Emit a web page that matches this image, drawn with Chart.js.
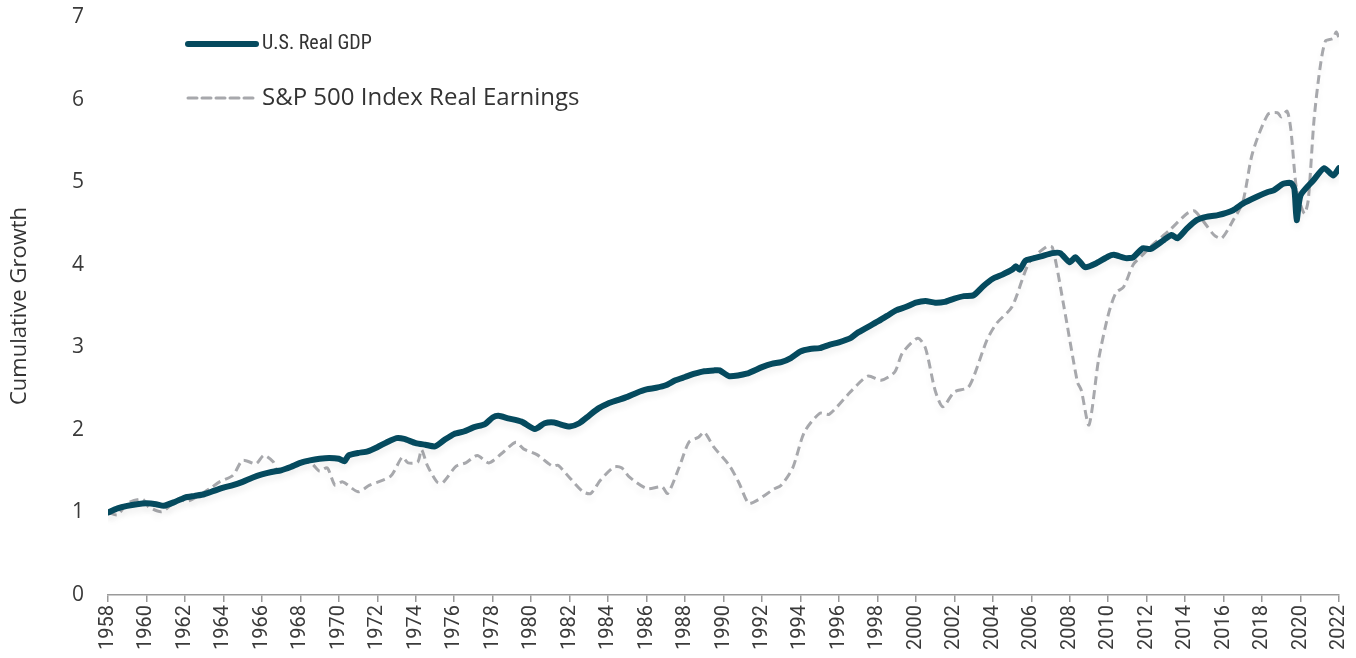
<!DOCTYPE html>
<html>
<head>
<meta charset="utf-8">
<script src="https://cdn.jsdelivr.net/npm/chart.js@4/dist/chart.umd.min.js"></script>
<style>
  html, body { margin: 0; padding: 0; background: #fff; }
  #wrap { width: 1356px; height: 658px; position: relative; }
</style>
</head>
<body>
<div id="wrap"><canvas id="chart"></canvas></div>
<script>
// x tick labels, every two years
const yearTicks = [];
for (let y = 1958; y <= 2022; y += 2) yearTicks.push(y);

// U.S. Real GDP, cumulative growth
const gdpYears = [
  1958.0, 1958.5, 1959.0, 1959.5, 1960.0, 1960.5, 1960.9, 1961.5, 1962.0, 1962.5,
  1963.0, 1963.5, 1964.0, 1964.5, 1965.0, 1965.5, 1966.0, 1966.5, 1967.0, 1967.5,
  1968.0, 1968.5, 1969.0, 1969.5, 1970.0, 1970.3, 1970.5, 1971.0, 1971.5, 1972.0,
  1972.5, 1973.0, 1973.4, 1974.0, 1974.5, 1975.0, 1975.5, 1976.0, 1976.5, 1977.0,
  1977.6, 1978.0, 1978.3, 1978.8, 1979.5, 1980.2, 1980.7, 1981.2, 1981.6, 1982.0,
  1982.5, 1983.0, 1983.5, 1984.0, 1984.5, 1985.0, 1985.5, 1986.0, 1986.5, 1987.0,
  1987.5, 1988.0, 1988.5, 1989.0, 1989.5, 1989.8, 1990.3, 1991.2, 1992.0, 1992.5,
  1993.0, 1993.5, 1994.0, 1994.5, 1995.0, 1995.5, 1996.0, 1996.6, 1997.0, 1998.0,
  1998.5, 1999.0, 1999.5, 2000.0, 2000.5, 2001.0, 2001.5, 2002.0, 2002.5, 2003.0,
  2003.5, 2004.0, 2004.5, 2005.0, 2005.2, 2005.4, 2005.7, 2006.0, 2006.5, 2007.1,
  2007.5, 2008.0, 2008.3, 2008.8, 2009.4, 2010.0, 2010.3, 2010.9, 2011.3, 2011.8,
  2012.2, 2012.9, 2013.3, 2013.6, 2014.1, 2014.6, 2015.1, 2015.7, 2016.5, 2017.0,
  2017.7, 2018.3, 2018.6, 2019.1, 2019.5, 2019.68, 2019.8, 2020.0, 2020.66, 2021.23,
  2021.7, 2022.0
];
const gdpValues = [
  1.00, 1.05, 1.08, 1.10, 1.11, 1.10, 1.08, 1.13, 1.18, 1.20,
  1.22, 1.26, 1.30, 1.33, 1.37, 1.42, 1.46, 1.49, 1.51, 1.55,
  1.60, 1.63, 1.65, 1.66, 1.65, 1.62, 1.69, 1.72, 1.74, 1.79,
  1.85, 1.90, 1.89, 1.84, 1.82, 1.80, 1.88, 1.95, 1.98, 2.03,
  2.07, 2.15, 2.17, 2.14, 2.10, 2.01, 2.08, 2.09, 2.06, 2.04,
  2.08, 2.17, 2.26, 2.32, 2.36, 2.40, 2.45, 2.49, 2.51, 2.54,
  2.60, 2.64, 2.68, 2.71, 2.72, 2.72, 2.65, 2.68, 2.76, 2.80,
  2.82, 2.87, 2.95, 2.98, 2.99, 3.03, 3.06, 3.11, 3.18, 3.31,
  3.38, 3.45, 3.49, 3.54, 3.56, 3.54, 3.55, 3.59, 3.62, 3.63,
  3.74, 3.83, 3.88, 3.94, 3.98, 3.94, 4.05, 4.07, 4.10, 4.14,
  4.14, 4.03, 4.09, 3.97, 4.02, 4.10, 4.12, 4.08, 4.09, 4.20,
  4.19, 4.30, 4.36, 4.32, 4.44, 4.54, 4.58, 4.60, 4.66, 4.74,
  4.82, 4.88, 4.90, 4.98, 4.99, 4.92, 4.54, 4.84, 5.02, 5.17,
  5.08, 5.17
];

// S&P 500 Index real earnings, cumulative growth
const epsYears = [
  1958.0, 1958.5, 1959.0, 1959.8, 1960.1, 1960.8, 1961.7, 1962.1, 1963.3, 1963.8,
  1964.5, 1965.0, 1965.7, 1966.1, 1966.6, 1966.8, 1967.5, 1968.1, 1968.6, 1969.0,
  1969.4, 1969.8, 1970.2, 1971.0, 1971.6, 1972.7, 1973.3, 1973.6, 1974.1, 1974.3,
  1974.6, 1975.1, 1975.4, 1976.1, 1976.6, 1977.2, 1977.8, 1978.5, 1979.2, 1979.6,
  1980.3, 1981.1, 1981.4, 1982.0, 1982.7, 1983.1, 1983.6, 1984.3, 1984.7, 1985.1,
  1986.0, 1986.8, 1987.1, 1987.7, 1988.2, 1988.7, 1989.0, 1989.5, 1990.3, 1990.8,
  1991.3, 1991.7, 1992.6, 1993.0, 1993.6, 1994.2, 1995.0, 1995.5, 1996.6, 1997.5,
  1998.2, 1998.9, 1999.3, 2000.1, 2000.5, 2001.0, 2001.4, 2002.0, 2002.7, 2003.0,
  2003.7, 2004.2, 2005.0, 2005.9, 2006.8, 2007.1, 2007.7, 2008.4, 2008.6, 2009.0,
  2009.5, 2010.0, 2010.4, 2010.8, 2011.3, 2011.8, 2012.3, 2013.2, 2014.1, 2014.5,
  2015.5, 2015.9, 2016.5, 2017.0, 2017.5, 2018.3, 2018.8, 2019.0, 2019.3, 2019.5,
  2019.8, 2020.2, 2020.4, 2020.7, 2021.0, 2021.3, 2021.7, 2021.85, 2022.0
];
const epsValues = [
  1.00, 0.97, 1.11, 1.16, 1.07, 1.01, 1.17, 1.13, 1.29, 1.37,
  1.45, 1.63, 1.59, 1.69, 1.61, 1.51, 1.55, 1.62, 1.59, 1.50,
  1.54, 1.33, 1.37, 1.25, 1.33, 1.44, 1.67, 1.60, 1.61, 1.76,
  1.57, 1.37, 1.36, 1.56, 1.60, 1.69, 1.60, 1.72, 1.85, 1.77,
  1.70, 1.56, 1.57, 1.42, 1.25, 1.23, 1.39, 1.55, 1.54, 1.43,
  1.29, 1.31, 1.23, 1.55, 1.85, 1.91, 1.97, 1.79, 1.57, 1.36,
  1.11, 1.14, 1.28, 1.33, 1.54, 1.97, 2.20, 2.19, 2.46, 2.65,
  2.60, 2.70, 2.93, 3.11, 2.99, 2.48, 2.28, 2.46, 2.51, 2.64,
  3.09, 3.29, 3.49, 4.03, 4.22, 4.21, 3.49, 2.58, 2.48, 2.06,
  2.85, 3.39, 3.66, 3.73, 4.00, 4.12, 4.24, 4.42, 4.62, 4.65,
  4.36, 4.32, 4.54, 4.76, 5.35, 5.82, 5.84, 5.79, 5.86, 5.63,
  4.90, 4.62, 4.78, 5.75, 6.36, 6.71, 6.74, 6.82, 6.75
];

const toPoints = (xs, ys) => xs.map((x, i) => ({ x: x, y: ys[i] }));

const WIDE_FONT = '"Open Sans", "Noto Sans", sans-serif';

// faint drop shadow under both lines, as in the original
const lineShadow = {
  id: 'lineShadow',
  beforeDatasetsDraw: (chart) => {
    const ctx = chart.ctx;
    ctx.save();
    ctx.shadowColor = 'rgba(0, 0, 0, 0.06)';
    ctx.shadowBlur = 6;
    ctx.shadowOffsetY = 5;
  },
  afterDatasetsDraw: (chart) => {
    chart.ctx.restore();
  },
};

// legend drawn as a vertical list in the top left corner
const stackedLegend = {
  id: 'stackedLegend',
  afterDraw: (chart) => {
    const ctx = chart.ctx;
    const rows = [
      { ds: chart.data.datasets[0], y: 44, font: '20px "Liberation Sans Narrow", "Roboto Condensed", Roboto, sans-serif' },
      { ds: chart.data.datasets[1], y: 98, font: '24px ' + WIDE_FONT },
    ];
    ctx.save();
    rows.forEach((r) => {
      ctx.beginPath();
      ctx.lineCap = 'round';
      ctx.strokeStyle = r.ds.borderColor;
      ctx.lineWidth = r.ds.borderWidth;
      ctx.setLineDash(r.ds.borderDash || []);
      ctx.moveTo(188, r.y);
      ctx.lineTo(256, r.y);
      ctx.stroke();
      ctx.setLineDash([]);
      ctx.fillStyle = '#333';
      ctx.font = r.font;
      ctx.textBaseline = 'middle';
      ctx.fillText(r.ds.label, 262, r.y);
    });
    ctx.restore();
  },
};

new Chart(document.getElementById('chart'), {
  type: 'line',
  data: {
    datasets: [
      {
        label: 'U.S. Real GDP',
        data: toPoints(gdpYears, gdpValues),
        borderColor: '#054a5e',
        borderWidth: 6,
        pointRadius: 0,
        tension: 0.2,
        borderJoinStyle: 'round',
        borderCapStyle: 'round',
        order: 1,
      },
      {
        label: 'S&P 500 Index Real Earnings',
        data: toPoints(epsYears, epsValues),
        borderColor: '#a7a8ac',
        borderWidth: 3,
        borderDash: [9, 5],
        pointRadius: 0,
        tension: 0.25,
        order: 2,
      },
    ],
  },
  options: {
    responsive: true,
    maintainAspectRatio: false,
    animation: false,
    layout: { autoPadding: false, padding: { top: 17, right: 17, left: 0, bottom: 0 } },
    plugins: {
      legend: { display: false },
      tooltip: { enabled: false },
    },
    scales: {
      x: {
        type: 'linear',
        min: 1958,
        max: 2022,
        afterBuildTicks: (scale) => {
          scale.ticks = yearTicks.map((v) => ({ value: v }));
        },
        afterFit: (scale) => {
          scale.height = 63;
          scale.paddingLeft = 0;
          scale.paddingRight = 0;
        },
        ticks: {
          autoSkip: false,
          minRotation: 90,
          maxRotation: 90,
          padding: 3,
          color: '#3a3a3a',
          font: { family: 'Roboto, sans-serif', size: 20 },
          callback: (v) => String(v),
        },
        grid: {
          drawOnChartArea: false,
          drawTicks: true,
          tickLength: 7,
          color: '#9a9a9a',
          lineWidth: 1.5,
        },
        border: { display: true, color: '#9a9a9a', width: 1.5 },
      },
      y: {
        min: 0,
        max: 7,
        afterFit: (scale) => {
          scale.width = 108;
          scale.paddingTop = 0;
          scale.paddingBottom = 0;
        },
        ticks: {
          stepSize: 1,
          padding: 24,
          color: '#3a3a3a',
          font: { family: WIDE_FONT, size: 21 },
        },
        grid: { display: false, drawTicks: false },
        border: { display: false },
        title: {
          display: true,
          text: 'Cumulative Growth',
          color: '#333',
          font: { family: WIDE_FONT, size: 22 },
          padding: { top: 7, bottom: 0 },
        },
      },
    },
  },
  plugins: [lineShadow, stackedLegend],
});
</script>
</body>
</html>
